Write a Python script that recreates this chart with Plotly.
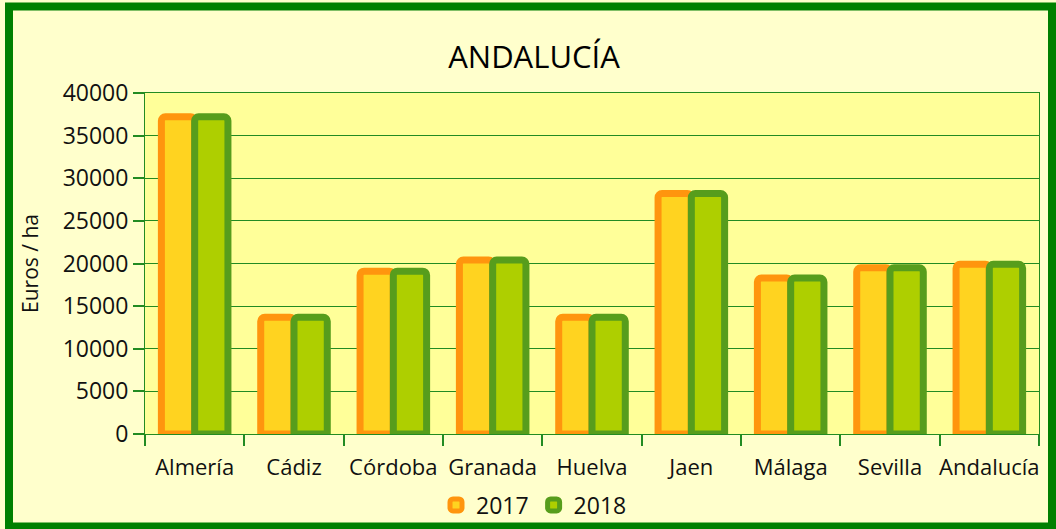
import plotly.graph_objects as go

categories = ["Almería", "Cádiz", "Córdoba", "Granada", "Huelva", "Jaen", "Málaga", "Sevilla", "Andalucía"]
values_2017 = [37200, 13700, 19100, 20400, 13700, 28200, 18300, 19500, 19900]
values_2018 = [37200, 13700, 19100, 20400, 13700, 28200, 18300, 19500, 19900]
tick_vals = [0, 5000, 10000, 15000, 20000, 25000, 30000, 35000, 40000]

FONT = "Open Sans"
GREEN = "#228B22"

W, H = 1056, 529
L, R, T, B = 145, 17, 93, 95
pw = W - L - R
ph = H - T - B

def px_x(p):
    return (p - L) / pw

def px_y(p):
    return (H - B - p) / ph

fig = go.Figure()
fig.add_trace(go.Bar(
    x=categories, y=values_2017, name="2017",
    marker=dict(color="#FFD320", line=dict(color="#FF950E", width=7)),
))
fig.add_trace(go.Bar(
    x=categories, y=values_2018, name="2018",
    marker=dict(color="#AECF00", line=dict(color="#579D1C", width=7)),
))

fig.update_layout(
    width=W, height=H,
    margin=dict(l=L, r=R, t=T, b=B, autoexpand=False),
    paper_bgcolor="#FFFFCC",
    plot_bgcolor="#FFFF99",
    barmode="group",
    bargap=0.33,
    bargroupgap=0,
    barcornerradius=4,
    font=dict(family=FONT, size=22, color="#111111"),
    title=dict(
        text="ANDALUCÍA",
        font=dict(family=FONT, size=31, color="#000000"),
        x=534 / W, xanchor="center", xref="container",
        y=1 - 57 / H, yanchor="middle", yref="container",
    ),
    legend=dict(
        orientation="h",
        xref="container", yref="container",
        x=534 / W, xanchor="center",
        y=1 - 505 / H, yanchor="middle",
        font=dict(family=FONT, size=23, color="#111111"),
        bgcolor="rgba(0,0,0,0)",
        itemwidth=30,
    ),
    showlegend=True,
)

fig.update_xaxes(
    automargin=False,
    tickangle=0,
    showline=True, linecolor=GREEN, linewidth=1, mirror=True,
    ticks="outside", tickson="boundaries", ticklen=11, tickcolor=GREEN, tickwidth=1.5,
    ticklabelstandoff=14,
    showgrid=False,
    tickfont=dict(family=FONT, size=22, color="#111111"),
)
fig.update_yaxes(
    automargin=False,
    range=[0, 40000],
    tickvals=tick_vals,
    tickformat="d",
    showline=True, linecolor=GREEN, linewidth=1, mirror=True,
    ticks="outside", ticklen=11, tickcolor=GREEN, tickwidth=1.5,
    showgrid=True, gridcolor=GREEN, gridwidth=1,
    zeroline=False,
    tickfont=dict(family=FONT, size=23, color="#111111"),
    title=dict(text="Euros / ha", font=dict(family=FONT, size=21, color="#111111"), standoff=18),
)

# outer green frame
fig.add_shape(
    type="rect", xref="paper", yref="paper",
    x0=px_x(9), x1=px_x(1052), y0=px_y(526.5), y1=px_y(6.5),
    line=dict(color="#008000", width=8), fillcolor="rgba(0,0,0,0)", layer="above",
)

fig.write_html("out.html", config={"displayModeBar": False},
               post_script="document.body.style.margin='0';")
